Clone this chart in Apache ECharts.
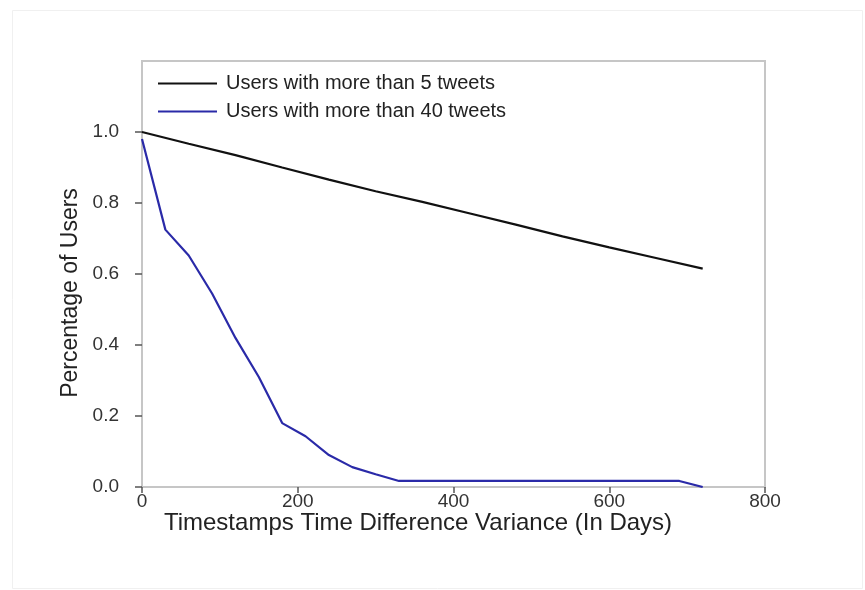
<!DOCTYPE html>
<html>
<head>
<meta charset="utf-8">
<script src="https://cdn.jsdelivr.net/npm/echarts@6/dist/echarts.min.js"></script>
<style>
  html, body { margin: 0; padding: 0; background: #fff; }
  #chart { width: 865px; height: 590px; }
</style>
</head>
<body>
<div id="chart"></div>
<script>
// Share of users still present as the variance threshold (days) grows
const seriesNames = ['Users with more than 5 tweets', 'Users with more than 40 tweets'];

const daysOver5 = [0, 60, 120, 180, 240, 300, 360, 420, 480, 540, 600, 660, 720];
const usersOver5 = [1.0, 0.967, 0.935, 0.900, 0.866, 0.833, 0.803, 0.771, 0.739, 0.706, 0.675, 0.645, 0.615];

const daysOver40 = [0, 30, 60, 90, 120, 150, 180, 210, 240, 270, 300, 330, 690, 720];
const usersOver40 = [0.98, 0.725, 0.652, 0.545, 0.42, 0.31, 0.18, 0.143, 0.09, 0.056, 0.036, 0.017, 0.017, 0.0];

const xTicks = [0, 200, 400, 600, 800];
const yTicks = [0, 0.2, 0.4, 0.6, 0.8, 1.0];

const FONT = '"Liberation Sans", Arial, Helvetica, sans-serif';

function pairs(xs, ys) {
  return xs.map((x, i) => [x, ys[i]]);
}

const chart = echarts.init(document.getElementById('chart'), null, { renderer: 'canvas' });

chart.setOption({
  backgroundColor: '#ffffff',
  animation: false,
  textStyle: { fontFamily: FONT },
  graphic: [{
    type: 'rect',
    left: 10, top: 8,
    shape: { width: 850, height: 578 },
    style: { fill: 'none', stroke: '#f0f0f0', lineWidth: 1 },
    silent: true,
    z: -10
  }],
  grid: {
    left: 142, right: 100, top: 61, bottom: 103,
    show: true,
    borderColor: '#c6c6c6',
    borderWidth: 2,
    backgroundColor: 'transparent'
  },
  legend: {
    orient: 'vertical',
    left: 153, top: 68,
    icon: 'rect',
    itemWidth: 59, itemHeight: 2,
    itemGap: 7,
    data: seriesNames,
    textStyle: { fontFamily: FONT, fontSize: 20, lineHeight: 21, color: '#222', padding: [0, 0, 0, 4] }
  },
  xAxis: {
    type: 'value',
    min: xTicks[0], max: xTicks[xTicks.length - 1], interval: 200,
    name: 'Timestamps Time Difference Variance (In Days)',
    nameLocation: 'middle',
    nameGap: 24,
    nameMoveOverlap: false,
    nameTextStyle: { fontFamily: FONT, fontSize: 24, color: '#222', padding: [0, 71, 0, 0] },
    axisLine: { show: true, onZero: false, lineStyle: { color: '#c6c6c6', width: 2 } },
    axisTick: { show: true, inside: false, length: 6, customValues: xTicks, lineStyle: { color: '#555', width: 1.5 } },
    axisLabel: { margin: 5, fontFamily: FONT, fontSize: 19, color: '#333', customValues: xTicks,
      formatter: v => String(v) },
    splitLine: { show: false }
  },
  yAxis: {
    type: 'value',
    min: 0, max: 1.2, interval: 0.2,
    name: 'Percentage of Users',
    nameLocation: 'middle',
    nameGap: 59,
    nameRotate: 90,
    nameTextStyle: { fontFamily: FONT, fontSize: 23, color: '#222', padding: [0, 38, 0, 0] },
    axisLine: { show: true, lineStyle: { color: '#c6c6c6', width: 2 } },
    axisTick: { show: true, inside: false, length: 7, customValues: yTicks, lineStyle: { color: '#555', width: 1.5 } },
    axisLabel: { margin: 23, fontFamily: FONT, fontSize: 19, color: '#333', customValues: yTicks,
      formatter: v => v.toFixed(1) },
    splitLine: { show: false }
  },
  series: [
    {
      name: seriesNames[0],
      type: 'line',
      data: pairs(daysOver5, usersOver5),
      symbol: 'none',
      lineStyle: { color: '#111111', width: 2.2 },
      itemStyle: { color: '#111111' },
      z: 3
    },
    {
      name: seriesNames[1],
      type: 'line',
      data: pairs(daysOver40, usersOver40),
      symbol: 'none',
      lineStyle: { color: '#2a2aa8', width: 2.2 },
      itemStyle: { color: '#2a2aa8' },
      z: 3
    }
  ]
});
</script>
</body>
</html>
